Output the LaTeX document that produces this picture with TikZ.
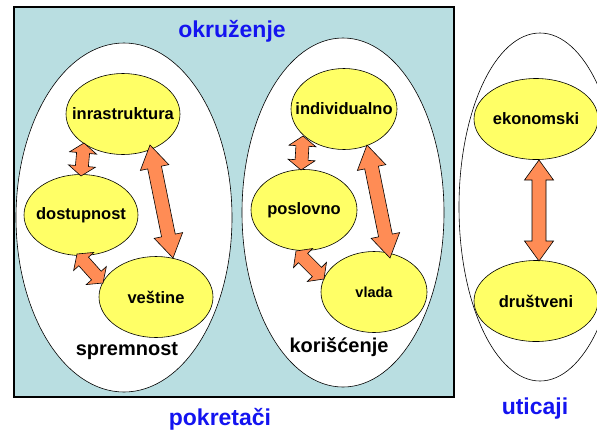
\documentclass[tikz,border=0pt]{standalone}
\usepackage{fontspec}
\setmainfont{Liberation Sans}
\usetikzlibrary{calc,shapes.geometric}
\definecolor{bgbox}{RGB}{185,222,225}
\definecolor{nodey}{RGB}{255,255,102}
\definecolor{arrowo}{RGB}{255,140,85}
\definecolor{titleblue}{RGB}{20,20,240}
\newcommand{\blockarrow}[5]{%
  \path ($(#1)!#5!(#2)$) coordinate (ba-h1) ($(#2)!#5!(#1)$) coordinate (ba-h2);
  \draw[blockarr] (#1) -- ($(ba-h1)!#4!90:(#2)$) -- ($(ba-h1)!#3!90:(#2)$)
    -- ($(ba-h2)!#3!-90:(#1)$) -- ($(ba-h2)!#4!-90:(#1)$) -- (#2)
    -- ($(ba-h2)!#4!90:(#1)$) -- ($(ba-h2)!#3!90:(#1)$)
    -- ($(ba-h1)!#3!-90:(#2)$) -- ($(ba-h1)!#4!-90:(#2)$) -- cycle;
}
\begin{document}
\begin{tikzpicture}[x=1pt,y=-1pt,
  envbox/.style={draw=black, line width=1.6pt, fill=bgbox},
  group/.style={ellipse, draw=black, line width=0.6pt, fill=white, inner sep=0pt},
  yel/.style={ellipse, draw=black, line width=0.6pt, fill=nodey, inner sep=0pt,
    minimum height=81pt},
  ytext/.style={font=\bfseries\fontsize{16.5}{18}\selectfont},
  blockarr/.style={draw=black, line width=0.6pt, fill=arrowo, line join=miter},
  grouplabel/.style={font=\bfseries\fontsize{20}{22}\selectfont, text=black},
  title/.style={font=\bfseries\fontsize{23}{26}\selectfont, text=titleblue}
]
\useasboundingbox (0,0) rectangle (597,432);
\clip (0,0) rectangle (597,432);
% environment box
\draw[envbox] (14,7) rectangle (454,397);
\node[title] (okr) at (232,31) {okruženje};
% group ellipses
\node[group, minimum width=216pt, minimum height=349pt] (spr) at (124,217.5) {};
\node[group, minimum width=202pt, minimum height=349pt] (kor) at (343,212.5) {};
\node[group, minimum width=162pt, minimum height=348pt] (uti) at (540,207) {};
% yellow nodes
\node[yel, minimum width=114pt, label={[ytext]center:inrastruktura}] (inr) at (123,114) {};
\node[yel, minimum width=114pt, label={[ytext]center:dostupnost}] (dos) at (81,215) {};
\node[yel, minimum width=114pt, label={[ytext]center:veštine}] (ves) at (156,297) {};
\node[yel, minimum width=106pt, label={[ytext]center:individualno}] (ind) at (344,109) {};
\node[yel, minimum width=106pt, label={[ytext]center:poslovno}] (pos) at (304,210) {};
\node[yel, minimum width=106pt, label={[font=\bfseries\fontsize{14.5}{16}\selectfont]center:vlada}] (vla) at (374,292) {};
\node[yel, minimum width=124pt, label={[ytext]center:ekonomski}] (eko) at (536,119) {};
\node[yel, minimum width=124pt, label={[ytext]center:društveni}] (dru) at (536,301) {};
% arrow end points
\coordinate (a1s) at (84,143);
\coordinate (a1e) at (81,176);
\coordinate (a2s) at (150,145);
\coordinate (a2e) at (173,258);
\coordinate (a3s) at (77,254);
\coordinate (a3e) at (103,283);
\coordinate (a4s) at (303,136);
\coordinate (a4e) at (301,170);
\coordinate (a5s) at (296,251);
\coordinate (a5e) at (324,279);
\coordinate (a6s) at (367,145);
\coordinate (a6e) at (390,258);
\coordinate (a7s) at (539,160);
\coordinate (a7e) at (539,261);
\blockarrow{a1s}{a1e}{6.5pt}{13.5pt}{10pt}
\blockarrow{a2s}{a2e}{7pt}{14.5pt}{23pt}
\blockarrow{a3s}{a3e}{6.5pt}{13.5pt}{10pt}
\blockarrow{a4s}{a4e}{6.5pt}{13.5pt}{10pt}
\blockarrow{a5s}{a5e}{6.5pt}{13.5pt}{10pt}
\blockarrow{a6s}{a6e}{7pt}{14.5pt}{23pt}
\blockarrow{a7s}{a7e}{7pt}{14.5pt}{20pt}
% group labels
\node[grouplabel] (lspr) at (127,351) {spremnost};
\node[grouplabel] (lkor) at (339,347) {korišćenje};
\node[title] (lpok) at (220,419) {pokretači};
\node[title] (luti) at (535,409) {uticaji};
\end{tikzpicture}
\end{document}
